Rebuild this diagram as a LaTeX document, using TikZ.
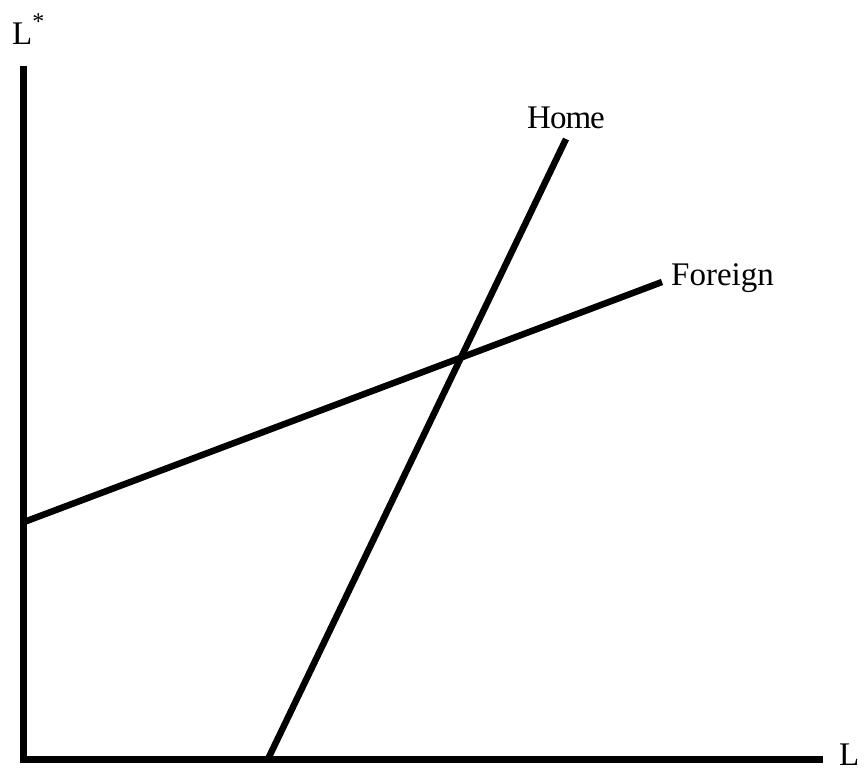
\documentclass[tikz,border=0pt]{standalone}
\usepackage{fontspec}
\setmainfont{Liberation Serif}
\begin{document}
\begin{tikzpicture}[x=1pt,y=-1pt,
  axisline/.style={line width=7pt,line join=miter},
  curve/.style={line width=6.5pt},
  lbl/.style={inner sep=0pt,font=\fontsize{33}{36}\selectfont}]
\useasboundingbox (0,0) rectangle (867,772);
\coordinate (ytop) at (23.5,66);
\coordinate (origin) at (23.5,759);
\coordinate (xend) at (823,759);
\draw[axisline] (ytop) -- (origin) -- (xend);
\coordinate (hb) at (268,759);
\coordinate (ht) at (566,139);
\coordinate (fl) at (24,522);
\coordinate (fr) at (662,282);
\draw[curve] (hb) -- (ht);
\draw[curve] (fl) -- (fr);
\node[lbl,anchor=base west] (lstar) at (12,44) {L\raisebox{15pt}{\fontsize{24}{24}\selectfont *}};
\node[lbl,anchor=base west] (lx) at (839,765) {L};
\node[lbl,anchor=base west] (home) at (527,128) {H\kern-1pt o\kern-1pt m\kern-1pt e};
\node[lbl,anchor=base west] (foreign) at (671,285) {Foreign};
\end{tikzpicture}
\end{document}
